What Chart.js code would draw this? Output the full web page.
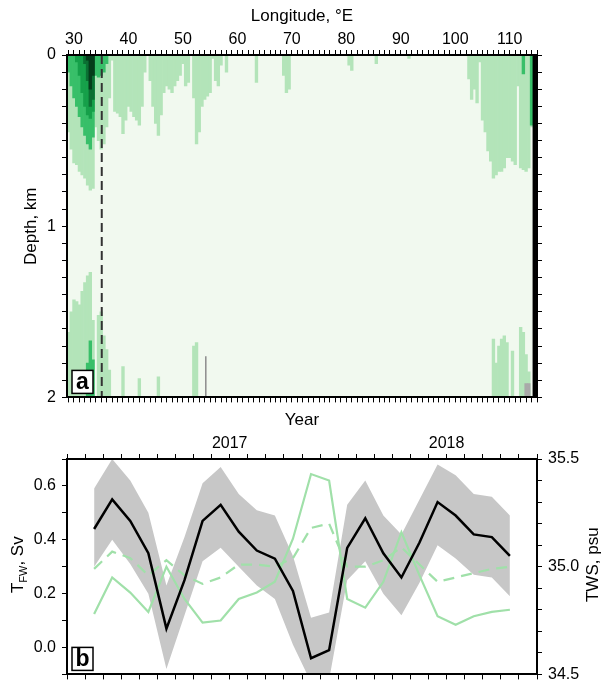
<!DOCTYPE html>
<html>
<head>
<meta charset="utf-8">
<script src="https://cdn.jsdelivr.net/npm/chart.js@4.4.1/dist/chart.umd.min.js"></script>
<style>
body { margin: 0; background: #fff; }
#wrap { position: relative; width: 606px; height: 683px; overflow: hidden; }
canvas { position: absolute; left: 0; }
</style>
</head>
<body>
<div id="wrap">
  <canvas id="sectionChart" width="606" height="413" style="top:0"></canvas>
  <canvas id="seriesChart" width="606" height="290" style="top:400px"></canvas>
</div>
<script>
// ---- panel a: longitude / depth section (depths in km) ----
const surfLon = [29, 29.5, 30, 30.5, 31, 31.5, 32, 32.5, 33, 33.5, 34, 34.5, 35, 35.5, 36, 36.5, 37, 37.5, 38, 38.5,
  39, 39.5, 40, 40.5, 41, 41.5, 42, 42.5, 43, 44, 44.5, 45, 45.5, 46, 46.5, 47, 47.5, 48, 48.5, 49,
  49.5, 50, 50.5, 51, 52, 52.5, 53, 53.5, 54, 54.5, 55, 55.5, 56, 56.5, 57, 58, 63.5, 68.5, 69, 69.5,
  80.5, 81, 85.5, 91.5, 102.5, 103, 103.5, 104, 104.5, 105, 105.5, 106, 106.5, 107, 107.5, 108, 108.5, 109, 109.5, 110,
  110.5, 111, 111.5, 112, 112.5, 113, 113.5, 114];
const surfLight = [0.45, 0.55, 0.63, 0.64, 0.68, 0.70, 0.72, 0.76, 0.79, 0.78, 0.42, 0.50, 0.55, 0.52, 0.42, 0.25, 0.03, 0.33, 0.34, 0.36,
  0.46, 0.38, 0.30, 0.33, 0.36, 0.38, 0.41, 0.30, 0.10, 0.15, 0.30, 0.40, 0.47, 0.35, 0.22, 0.18, 0.20, 0.22, 0.18, 0.15,
  0.12, 0.05, 0.18, 0.16, 0.25, 0.52, 0.45, 0.30, 0.26, 0.24, 0.22, 0.02, 0.15, 0.18, 0.06, 0.10, 0.16, 0.12, 0.22, 0.20,
  0.06, 0.09, 0.05, 0.02, 0.14, 0.26, 0.20, 0.28, 0.04, 0.38, 0.45, 0.56, 0.62, 0.72, 0.70, 0.68, 0.68, 0.66, 0.60, 0.60,
  0.62, 0.64, 0.18, 0.66, 0.67, 0.68, 0.66, 0.42];

const medLon = [29, 29.5, 30, 30.5, 31, 31.5, 32, 32.5, 33, 33.5, 34, 34.5, 35, 35.5, 36, 112.5, 114];
const medDepth = [0.10, 0.18, 0.25, 0.30, 0.36, 0.42, 0.47, 0.52, 0.55, 0.48, 0.12, 0.13, 0.12, 0.10, 0.05, 0.11, 0.41];

const darkLon = [30.5, 31, 31.5, 32, 32.5, 33, 33.5];
const darkDepth = [0.04, 0.12, 0.22, 0.30, 0.35, 0.37, 0.33];

const darkerLon = [32, 32.5, 33, 33.5];
const darkerDepth = [0.05, 0.15, 0.30, 0.26];

const darkestLon = [32.5, 33, 33.5];
const darkestDepth = [0.03, 0.20, 0.12];

// near-bottom patches (depth where the patch starts, down to 2 km)
const botLon = [29, 29.5, 30, 30.5, 31, 31.5, 32, 32.5, 33, 33.5, 34.5, 35, 35.5, 36, 36.5, 39, 42, 45.5, 52, 52.5,
  107, 107.5, 108, 108.5, 109, 109.5, 110.5, 112, 112.5, 113, 113.5];
const botLight = [1.62, 1.50, 1.43, 1.44, 1.46, 1.38, 1.33, 1.29, 1.27, 1.55, 1.52, 1.50, 1.64, 1.72, 1.84, 1.82, 1.89, 1.88, 1.70, 1.68,
  1.66, 1.80, 1.70, 1.66, 1.64, 1.68, 1.73, 1.59, 1.62, 1.75, 1.85];
const botMedLon = [32.5, 33, 33.5];
const botMedDepth = [1.80, 1.67, 1.78];

const grayLon = [113, 113.5];
const grayTop = [1.92, 1.92];
const landLon = [114.5, 115];
const maxDepth = 2;
const sectionLon = 35.1;
const grayStickLon = 54.2;
const grayStickTop = 1.76;

// ---- panel b: monthly series ----
const months = ['2016-05', '2016-06', '2016-07', '2016-08', '2016-09', '2016-10', '2016-11', '2016-12',
  '2017-01', '2017-02', '2017-03', '2017-04', '2017-05', '2017-06', '2017-07', '2017-08',
  '2017-09', '2017-10', '2017-11', '2017-12', '2018-01', '2018-02', '2018-03', '2018-04'];
const tfw = [0.44, 0.55, 0.47, 0.35, 0.07, 0.25, 0.47, 0.53, 0.43, 0.36, 0.33, 0.21,
  -0.04, -0.01, 0.37, 0.48, 0.35, 0.26, 0.39, 0.54, 0.49, 0.42, 0.41, 0.34];
const tfwUpper = [0.59, 0.70, 0.62, 0.50, 0.23, 0.41, 0.61, 0.67, 0.57, 0.51, 0.49, 0.34,
  0.11, 0.13, 0.53, 0.62, 0.49, 0.42, 0.55, 0.68, 0.64, 0.57, 0.56, 0.49];
const tfwLower = [0.30, 0.40, 0.31, 0.20, -0.08, 0.12, 0.32, 0.37, 0.30, 0.23, 0.18, 0.01,
  -0.13, -0.12, 0.25, 0.32, 0.20, 0.12, 0.24, 0.38, 0.33, 0.27, 0.26, 0.19];
const twsSolid = [34.78, 34.95, 34.88, 34.79, 35.00, 34.85, 34.74, 34.75, 34.85, 34.88, 34.93, 35.13,
  35.43, 35.40, 34.85, 34.81, 34.93, 35.16, 34.96, 34.77, 34.73, 34.77, 34.79, 34.80];
const twsDashed = [34.99, 35.07, 35.04, 34.96, 35.03, 34.96, 34.92, 34.95, 35.01, 35.01, 35.00, 35.04,
  35.18, 35.20, 35.00, 35.00, 35.03, 35.09, 35.01, 34.93, 34.95, 34.97, 34.99, 35.00];

const family = "'Liberation Sans', Arial, Helvetica, sans-serif";
Chart.defaults.font.family = family;
Chart.defaults.font.size = 16;
Chart.defaults.color = '#000';

const green = '#a0e0a9';
const titleFont = { size: 17 };

// helpers
function fromSurface(lons, depths) {
  return lons.map((x, i) => ({ x: x, y: [0, depths[i]] }));
}
function toBottom(lons, depths) {
  return lons.map((x, i) => ({ x: x, y: [depths[i], maxDepth] }));
}
function monthPos(label) {
  const [y, m] = label.split('-').map(Number);
  return (y - 2017) * 12 + (m - 1) + 0.5;
}
function series(values) {
  return months.map((m, i) => ({ x: monthPos(m), y: values[i] }));
}

const tickGrid = { drawOnChartArea: false, tickLength: 5, tickColor: '#000', tickWidth: 1, offset: false };
const frame = { color: '#000', width: 2, z: 1 };

// pale background of section
const sectionBg = {
  id: 'sectionBg',
  beforeDatasetsDraw(chart) {
    const a = chart.chartArea;
    const ctx = chart.ctx;
    ctx.save();
    ctx.fillStyle = '#f1f9ef';
    ctx.fillRect(a.left, a.top, a.right - a.left, a.bottom - a.top);
    ctx.restore();
  }
};

function tagPlugin(letter) {
  return {
    id: 'tag_' + letter,
    afterDraw(chart) {
      const { ctx, chartArea } = chart;
      const w = 21, h = 23;
      const x = chartArea.left + 5, y = chartArea.bottom - 4 - h;
      ctx.save();
      ctx.fillStyle = '#fff';
      ctx.fillRect(x, y, w, h);
      ctx.strokeStyle = '#000';
      ctx.lineWidth = 1.5;
      ctx.strokeRect(x, y, w, h);
      ctx.fillStyle = '#000';
      ctx.font = 'bold 23px ' + family;
      ctx.textAlign = 'center';
      ctx.textBaseline = 'middle';
      ctx.fillText(letter, x + w / 2, y + h / 2 + 1);
      ctx.restore();
    }
  };
}

// Section chart (panel a)
new Chart(document.getElementById('sectionChart'), {
  type: 'bar',
  data: {
    datasets: [
      { type: 'line', data: [{ x: sectionLon, y: 0 }, { x: sectionLon, y: maxDepth }], borderColor: '#333',
        borderWidth: 2, borderDash: [9, 5], pointRadius: 0, order: 0 },
      { type: 'line', data: [{ x: grayStickLon, y: grayStickTop }, { x: grayStickLon, y: maxDepth }], borderColor: '#8c8c8c',
        borderWidth: 1.5, pointRadius: 0, order: 0 },
      { data: toBottom(landLon, [0, 0]), backgroundColor: '#000', order: 1 },
      { data: toBottom(grayLon, grayTop), backgroundColor: '#a9a9a9', order: 1 },
      { data: fromSurface(darkestLon, darkestDepth), backgroundColor: '#053d1b', order: 2 },
      { data: fromSurface(darkerLon, darkerDepth), backgroundColor: '#0b7033', order: 3 },
      { data: fromSurface(darkLon, darkDepth), backgroundColor: '#16a04a', order: 4 },
      { data: fromSurface(medLon, medDepth), backgroundColor: '#38bf69', order: 5 },
      { data: toBottom(botMedLon, botMedDepth), backgroundColor: '#38bf69', order: 5 },
      { data: fromSurface(surfLon, surfLight), backgroundColor: '#b3e4b9', order: 6 },
      { data: toBottom(botLon, botLight), backgroundColor: '#b3e4b9', order: 6 }
    ]
  },
  options: {
    responsive: false,
    animation: false,
    devicePixelRatio: 1,
    layout: { padding: 0, autoPadding: false },
    datasets: { bar: { barPercentage: 1, categoryPercentage: 1, grouped: false, borderWidth: 0 } },
    plugins: { legend: { display: false }, tooltip: { enabled: false } },
    scales: {
      x: {
        type: 'linear', position: 'top', min: 28.72, max: 115, offset: false,
        grid: tickGrid, border: frame,
        ticks: { stepSize: 1, autoSkip: false, includeBounds: false, maxRotation: 0, minRotation: 0, padding: 1,
          callback: v => (v % 10 === 0 ? String(v) : '') },
        title: { display: true, text: 'Longitude, °E', font: titleFont, padding: { top: 6, bottom: 0 } },
        afterFit: s => { s.height = 55; }
      },
      xb: {
        type: 'linear', position: 'bottom', min: 28.72, max: 115, offset: false,
        grid: tickGrid, border: frame,
        ticks: { stepSize: 1, autoSkip: false, includeBounds: false, maxRotation: 0, callback: () => '' },
        afterFit: s => { s.height = 10; }
      },
      y: {
        type: 'linear', position: 'left', reverse: true, min: 0, max: maxDepth,
        grid: tickGrid, border: frame,
        ticks: { stepSize: 0.1, autoSkip: false, padding: 6,
          callback: v => (Math.abs(v - Math.round(v)) < 1e-6 ? String(Math.round(v)) : '') },
        title: { display: true, text: 'Depth, km', font: titleFont, padding: { top: 21, bottom: 0 } },
        afterFit: s => { s.width = 67; }
      },
      yr: {
        type: 'linear', position: 'right', reverse: true, min: 0, max: maxDepth,
        grid: tickGrid, border: frame,
        ticks: { stepSize: 0.1, autoSkip: false, callback: () => '' },
        afterFit: s => { s.width = 69; }
      }
    }
  },
  plugins: [sectionBg, tagPlugin('a')]
});

// axis titles of panel b (subscript and bottom-to-top right title)
const seriesTitles = {
  id: 'seriesTitles',
  afterDraw(chart) {
    const { ctx, chartArea } = chart;
    const cy = (chartArea.top + chartArea.bottom) / 2 - 2;
    ctx.save();
    ctx.fillStyle = '#000';
    ctx.textBaseline = 'alphabetic';
    ctx.translate(23, cy);
    ctx.rotate(-Math.PI / 2);
    ctx.font = '17px ' + family;
    const wT = ctx.measureText('T').width;
    const wRest = ctx.measureText(', Sv').width;
    ctx.font = '11px ' + family;
    const wSub = ctx.measureText('FW').width;
    let x0 = -(wT + wSub + wRest) / 2;
    ctx.font = '17px ' + family;
    ctx.fillText('T', x0, 0);
    x0 += wT;
    ctx.font = '11px ' + family;
    ctx.fillText('FW', x0, 4);
    x0 += wSub;
    ctx.font = '17px ' + family;
    ctx.fillText(', Sv', x0, 0);
    ctx.restore();

    ctx.save();
    ctx.fillStyle = '#000';
    ctx.font = '17px ' + family;
    ctx.textAlign = 'center';
    ctx.textBaseline = 'alphabetic';
    ctx.translate(598, cy);
    ctx.rotate(-Math.PI / 2);
    ctx.fillText('TWS, psu', 0, 0);
    ctx.restore();
  }
};

// Time series chart (panel b)
new Chart(document.getElementById('seriesChart'), {
  type: 'line',
  data: {
    datasets: [
      { data: series(tfw), borderColor: '#000', borderWidth: 2.5, pointRadius: 0, fill: false, order: 0 },
      { data: series(twsDashed), yAxisID: 'y2', borderColor: green, borderWidth: 2.2, borderDash: [11, 7],
        pointRadius: 0, fill: false, order: 1 },
      { data: series(twsSolid), yAxisID: 'y2', borderColor: green, borderWidth: 2.2, pointRadius: 0, fill: false, order: 2 },
      { data: series(tfwUpper), borderWidth: 0, borderColor: 'rgba(0,0,0,0)', backgroundColor: '#c7c7c7',
        pointRadius: 0, fill: '+1', order: 4 },
      { data: series(tfwLower), borderWidth: 0, borderColor: 'rgba(0,0,0,0)', pointRadius: 0, fill: false, order: 3 }
    ]
  },
  options: {
    responsive: false,
    animation: false,
    devicePixelRatio: 1,
    layout: { padding: 0, autoPadding: false },
    plugins: { legend: { display: false }, tooltip: { enabled: false } },
    scales: {
      x: {
        type: 'linear', position: 'top', min: -9, max: 17, offset: false,
        grid: tickGrid, border: frame,
        ticks: { stepSize: 1, autoSkip: false, maxRotation: 0, minRotation: 0, padding: 1,
          callback: v => (v % 12 === 0 ? String(2017 + v / 12) : '') },
        title: { display: true, text: 'Year', font: titleFont, padding: { top: 10, bottom: 0 } },
        afterFit: s => { s.height = 59; }
      },
      xb: {
        type: 'linear', position: 'bottom', min: -9, max: 17, offset: false,
        grid: tickGrid, border: frame,
        ticks: { stepSize: 1, autoSkip: false, maxRotation: 0, callback: () => '' },
        afterFit: s => { s.height = 13; }
      },
      y: {
        type: 'linear', position: 'left', min: -0.1, max: 0.7,
        grid: tickGrid, border: frame,
        ticks: { stepSize: 0.1, autoSkip: false, padding: 6,
          callback: v => { const k = Math.round(v * 10); return k % 2 === 0 ? (k / 10).toFixed(1) : ''; } },
        afterFit: s => { s.width = 67; }
      },
      y2: {
        type: 'linear', position: 'right', min: 34.5, max: 35.5,
        grid: tickGrid, border: frame,
        ticks: { stepSize: 0.1, autoSkip: false, padding: 6,
          callback: v => { const k = Math.round(v * 10); return k % 5 === 0 ? (k / 10).toFixed(1) : ''; } },
        afterFit: s => { s.width = 69; }
      }
    }
  },
  plugins: [seriesTitles, tagPlugin('b')]
});
</script>
</body>
</html>
